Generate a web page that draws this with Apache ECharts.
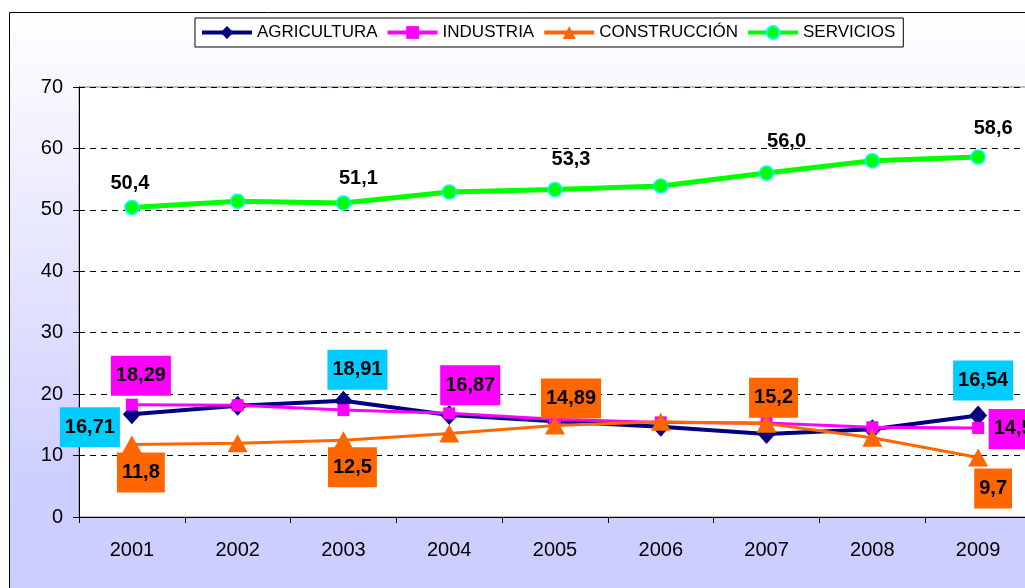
<!DOCTYPE html>
<html><head><meta charset="utf-8">
<script src="https://cdn.jsdelivr.net/npm/echarts@6/dist/echarts.min.js"></script>
<style>html,body{margin:0;padding:0;background:#fff;overflow:hidden}#c{width:1040px;height:588px}</style>
</head><body><div id="c"></div>
<script>
const years = ['2001','2002','2003','2004','2005','2006','2007','2008','2009'];
const agricultura = [16.71, 18.1, 18.91, 16.6, 15.6, 14.7, 13.5, 14.3, 16.54];
const industria = [18.29, 18.2, 17.4, 16.87, 15.9, 15.4, 15.3, 14.6, 14.5];
const construccion = [11.8, 12.0, 12.5, 13.6, 14.89, 15.5, 15.2, 12.9, 9.7];
const servicios = [50.4, 51.4, 51.1, 52.9, 53.3, 53.9, 56.0, 58.0, 58.6];
const yTicks = [0, 10, 20, 30, 40, 50, 60, 70];

const font = 'Liberation Sans, Arial, sans-serif';
function fmt(v, dec){ return (dec != null ? v.toFixed(dec) : String(v)).replace('.', ','); }

function mkData(vals, labelMap, boxColor, dec){
  return vals.map((v, i) => {
    const off = labelMap[i];
    if (!off) return {value: v};
    return {value: v, label: {
      show: true, position: 'inside', offset: off,
      formatter: () => fmt(v, dec),
      color: '#000', fontFamily: font, fontWeight: 'bold', fontSize: 20, lineHeight: 20,
      backgroundColor: boxColor || 'transparent', padding: boxColor ? [10, 5] : 0
    }};
  });
}

const agLabels = {0: [-42, 13], 2: [14, -31], 8: [5, -35]};
const inLabels = {0: [9, -29], 3: [21, -28], 8: [35, 1]};
const coLabels = {0: [9, 28], 2: [9, 27], 4: [16, -27], 6: [7, -26], 8: [15, 31]};
const seLabels = {0: [-2, -24], 2: [15, -25], 4: [16, -30], 6: [20, -32], 8: [15, -29]};

const chart = echarts.init(document.getElementById('c'), null, {renderer: 'canvas'});
chart.setOption({
  animation: false,
  backgroundColor: '#fff',
  graphic: [{
    type: 'rect', z: -10, silent: true,
    shape: {x: 9.5, y: 12.5, width: 1040, height: 590},
    style: {
      fill: new echarts.graphic.LinearGradient(0, 0, 0, 1, [
        {offset: 0, color: '#FFFFFF'}, {offset: 0.8, color: '#CECEFF'}, {offset: 1, color: '#CCCCFF'}
      ]),
      stroke: '#000', lineWidth: 1
    }
  }],
  legend: {
    left: 195, top: 18, itemWidth: 50, itemHeight: 16, itemGap: 8,
    padding: [6, 8, 6, 5],
    backgroundColor: '#fff', borderColor: '#000', borderWidth: 1,
    lineStyle: {width: 4},
    textStyle: {fontFamily: font, fontSize: 17, color: '#000'},
    data: ['AGRICULTURA', 'INDUSTRIA', 'CONSTRUCCIÓN', 'SERVICIOS']
  },
  grid: {left: 79, top: 87, width: 952, height: 430, show: true, backgroundColor: '#fff', borderColor: '#808080', borderWidth: 1},
  xAxis: {
    type: 'category', data: years, boundaryGap: true,
    axisLine: {lineStyle: {color: '#000', width: 1}},
    axisTick: {show: true, length: 6, lineStyle: {color: '#000'}},
    axisLabel: {color: '#000', fontFamily: font, fontSize: 20, margin: 23}
  },
  yAxis: {
    type: 'value', min: yTicks[0], max: yTicks[yTicks.length - 1], interval: 10,
    axisLine: {show: true, lineStyle: {color: '#000', width: 1}},
    axisTick: {show: true, length: 6, lineStyle: {color: '#000'}},
    axisLabel: {color: '#000', fontFamily: font, fontSize: 20, margin: 16},
    splitLine: {show: true, lineStyle: {color: '#000', type: [6, 5], width: 1}}
  },
  series: [
    {name: 'AGRICULTURA', type: 'line', data: mkData(agricultura, agLabels, '#00CCFF'),
     symbol: 'diamond', symbolSize: [18, 20], itemStyle: {color: '#000080'},
     lineStyle: {color: '#000080', width: 4}, z: 3},
    {name: 'INDUSTRIA', type: 'line', data: mkData(industria, inLabels, '#FF00FF'),
     symbol: 'rect', symbolSize: 12, itemStyle: {color: '#FF00FF'},
     lineStyle: {color: '#FF00FF', width: 3}, z: 4},
    {name: 'CONSTRUCCIÓN', type: 'line', data: mkData(construccion, coLabels, '#FF6600'),
     symbol: 'triangle', symbolSize: [20, 18], itemStyle: {color: '#FF6600'},
     lineStyle: {color: '#FF6600', width: 3}, z: 5},
    {name: 'SERVICIOS', type: 'line', data: mkData(servicios, seLabels, null, 1),
     symbol: 'circle', symbolSize: 14, itemStyle: {color: '#00FF00', borderColor: '#00FFFF', borderWidth: 1.5},
     lineStyle: {color: '#00FF00', width: 5}, z: 6}
  ]
});
</script></body></html>
